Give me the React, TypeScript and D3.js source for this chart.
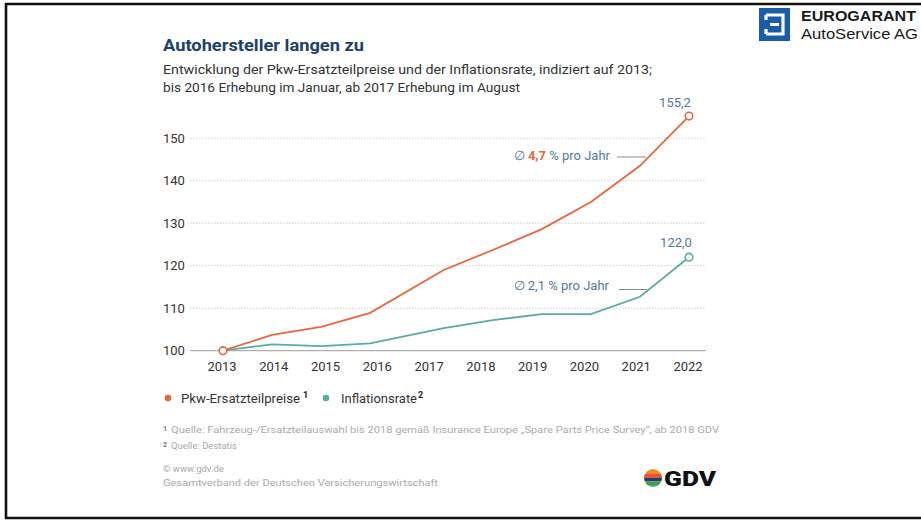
import React from "react";
import * as d3 from "d3";

const years = [2013, 2014, 2015, 2016, 2017, 2018, 2019, 2020, 2021, 2022];
// survey time (Jan until 2016, mid-year from 2017)
const surveyTime = [2013, 2014, 2015, 2016, 2017.5, 2018.5, 2019.5, 2020.5, 2021.5, 2022.5];
const partsPrices = [100, 103.7, 105.6, 108.9, 119.0, 123.7, 128.6, 135.0, 143.5, 155.2];
const inflation = [100, 101.5, 101.1, 101.7, 105.3, 107.2, 108.6, 108.6, 112.7, 122.0];
const yTicks = [100, 110, 120, 130, 140, 150];

const ORANGE = "#e8673c";
const TEAL = "#5aaba4";
const NAVY = "#1d3f6b";
const ANNO = "#54799a";
const FONT = "Roboto, 'Noto Sans', sans-serif";

export default function App() {
  const x = d3.scaleLinear().domain([2013, 2022.5]).range([223, 689]);
  const xl = d3.scalePoint<number>().domain(years).range([222, 688]);
  const y = d3.scaleLinear().domain([100, 150]).range([350.7, 138.2]);

  const line = d3
    .line<number>()
    .x((_, i) => x(surveyTime[i]))
    .y((d) => y(d));

  const last = years.length - 1;

  return (
    <div style={{ position: "absolute", left: 0, top: 0 }}>
      <svg width={921} height={520} style={{ display: "block", fontFamily: FONT }}>
        <rect width={921} height={520} fill="#fff" />
        {/* frame */}
        <path d="M921,4 H6 V518 H921" fill="none" stroke="#111" strokeWidth={2.6} />

        {/* Eurogarant logo */}
        <rect x={759} y={8} width={31} height={33} fill="#1b5ca6" />
        <path d="M766,15 H783 V34 H766 M766,15 V20 M766,34 V29 M770,24.5 H779" fill="none" stroke="#fff" strokeWidth={3.2} />
        <text x={801} y={21} fontSize={14.5} fontWeight={700} fill="#1a1a1a" fontFamily="'Liberation Sans', Arial, sans-serif" textLength={115} lengthAdjust="spacingAndGlyphs">EUROGARANT</text>
        <text x={801} y={38.5} fontSize={14.5} fill="#1a1a1a" fontFamily="'Liberation Sans', Arial, sans-serif" textLength={117} lengthAdjust="spacingAndGlyphs">AutoService AG</text>

        {/* title */}
        <text x={163} y={51} fontSize={17} fontWeight={700} fill={NAVY} textLength={201} lengthAdjust="spacingAndGlyphs">Autohersteller langen zu</text>
        <text x={163} y={74} fontSize={12.8} fill="#333" textLength={489} lengthAdjust="spacingAndGlyphs">Entwicklung der Pkw-Ersatzteilpreise und der Inflationsrate, indiziert auf 2013;</text>
        <text x={163} y={92} fontSize={12.8} fill="#333" textLength={357} lengthAdjust="spacingAndGlyphs">bis 2016 Erhebung im Januar, ab 2017 Erhebung im August</text>

        {/* grid */}
        {yTicks.map((t) => (
          <g key={t}>
            <line
              x1={190}
              x2={706}
              y1={y(t)}
              y2={y(t)}
              stroke={t === 100 ? "#9a9a9a" : "#cfcfcf"}
              strokeWidth={1}
              strokeDasharray={t === 100 ? undefined : "1.5,1.5"}
            />
            <text x={163} y={y(t)} dy="0.35em" fontSize={13} fill="#333">{t}</text>
          </g>
        ))}
        {years.map((yr) => (
          <text key={yr} x={xl(yr)} y={371} textAnchor="middle" fontSize={13} fill="#333">{yr}</text>
        ))}

        {/* annotation leader lines */}
        <line x1={617} x2={646} y1={157} y2={157} stroke="#8a8a8a" strokeWidth={1} />
        <line x1={619} x2={647} y1={289.5} y2={289.5} stroke="#8a8a8a" strokeWidth={1} />

        {/* lines */}
        <path d={line(inflation) || ""} fill="none" stroke={TEAL} strokeWidth={1.8} />
        <path d={line(partsPrices) || ""} fill="none" stroke={ORANGE} strokeWidth={1.8} />

        <circle cx={x(surveyTime[last])} cy={y(inflation[last])} r={3.8} fill="#fff" stroke={TEAL} strokeWidth={1.6} />
        <circle cx={x(surveyTime[last])} cy={y(partsPrices[last])} r={3.8} fill="#fff" stroke={ORANGE} strokeWidth={1.6} />
        <circle cx={x(surveyTime[0])} cy={y(partsPrices[0])} r={3.8} fill="#fff" stroke={ORANGE} strokeWidth={1.6} />

        <text x={x(surveyTime[last]) - 14} y={y(partsPrices[last]) - 9} textAnchor="middle" fontSize={13} fill={ANNO}>
          {d3.format(".1f")(partsPrices[last]).replace(".", ",")}
        </text>
        <text x={x(surveyTime[last]) - 13} y={y(inflation[last]) - 10} textAnchor="middle" fontSize={13} fill={ANNO}>
          {d3.format(".1f")(inflation[last]).replace(".", ",")}
        </text>

        <text x={610} y={159.5} textAnchor="end" fontSize={13} fill={ANNO}>
          ∅ <tspan fill={ORANGE} fontWeight={700}>4,7</tspan> % pro Jahr
        </text>
        <text x={609} y={289.5} textAnchor="end" fontSize={13} fill={ANNO}>
          ∅ 2,1 % pro Jahr
        </text>

        {/* legend */}
        <circle cx={168} cy={398} r={3.3} fill={ORANGE} />
        <text x={181} y={402.5} fontSize={12.8} fill="#333" textLength={119} lengthAdjust="spacingAndGlyphs">Pkw-Ersatzteilpreise</text>
        <text x={303} y={398} fontSize={9} fontWeight={700} fill="#222">1</text>
        <circle cx={326} cy={398} r={3.3} fill={TEAL} />
        <text x={341} y={402.5} fontSize={12.8} fill="#333" textLength={76} lengthAdjust="spacingAndGlyphs">Inflationsrate</text>
        <text x={418} y={398} fontSize={9} fontWeight={700} fill="#222">2</text>

        {/* footnotes */}
        <text x={163} y={431} fontSize={7} fontWeight={700} fill="#777">1</text>
        <text x={171} y={433} fontSize={9.5} fill="#aaa" textLength={548} lengthAdjust="spacingAndGlyphs">Quelle: Fahrzeug-/Ersatzteilauswahl bis 2018 gemäß Insurance Europe „Spare Parts Price Survey“, ab 2018 GDV</text>
        <text x={163} y={447} fontSize={7} fontWeight={700} fill="#777">2</text>
        <text x={171} y={449} fontSize={9.5} fill="#aaa">Quelle: Destatis</text>
        <text x={163} y={472} fontSize={9.5} fill="#aaa">© www.gdv.de</text>
        <text x={163} y={486} fontSize={9.5} fill="#aaa" textLength={275} lengthAdjust="spacingAndGlyphs">Gesamtverband der Deutschen Versicherungswirtschaft</text>

        {/* GDV logo */}
        <defs>
          <clipPath id="gdvc">
            <circle cx={653} cy={478} r={9} />
          </clipPath>
        </defs>
        <g clipPath="url(#gdvc)">
          <rect x={644} y={469} width={18} height={5} fill="#f08a2a" />
          <rect x={644} y={474} width={18} height={4} fill="#e2573a" />
          <rect x={644} y={478} width={18} height={3.5} fill="#1f3f7a" />
          <rect x={644} y={481.5} width={18} height={3.5} fill="#4d9a3c" />
          <rect x={644} y={485} width={18} height={4} fill="#46a8a3" />
        </g>
        <text x={664} y={486} fontSize={21} fontWeight={900} fill="#111" textLength={52} lengthAdjust="spacingAndGlyphs">GDV</text>
      </svg>
    </div>
  );
}
